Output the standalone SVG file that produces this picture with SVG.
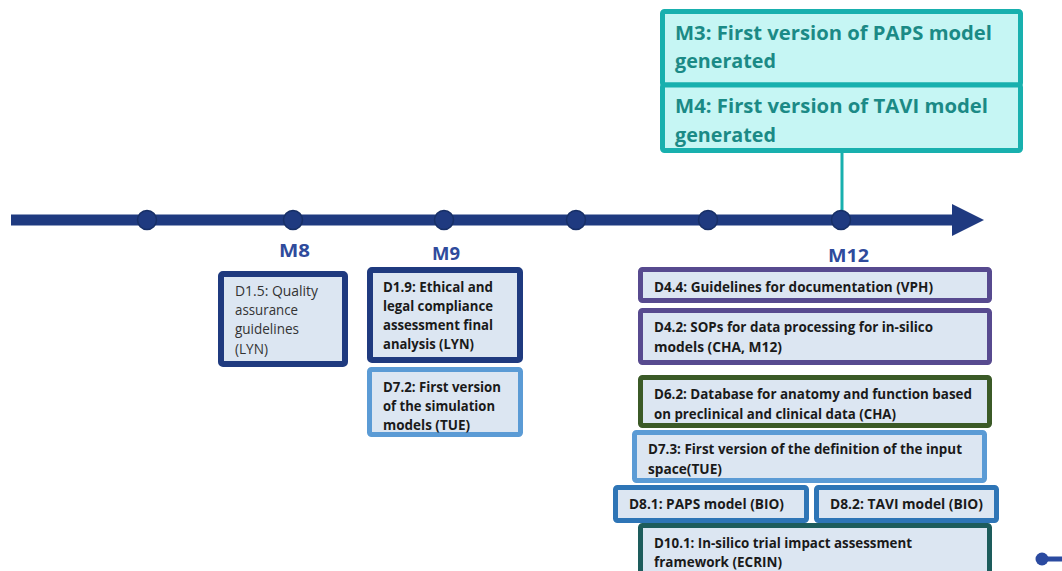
<svg xmlns="http://www.w3.org/2000/svg" width="1062" height="571" viewBox="0 0 1062 571">
<style>
.bx{fill:#dce6f2;stroke-linejoin:round}
.navy{stroke:#1f3a7f;stroke-width:6}
.lb{stroke:#5b9bd5;stroke-width:5}
.mb{stroke:#2e75b6;stroke-width:5}
.pu{stroke:#574a8f;stroke-width:5}
.gr{stroke:#3b5a27;stroke-width:5}
.tl{stroke:#1d5c5c;stroke-width:5}
.t{font-family:"Open Sans","Noto Sans",sans-serif;font-size:14px;fill:#1a1a1a;font-weight:bold}
.r{font-weight:normal;fill:#333}
.ms{fill:#c6f6f4;stroke:#18b0ae;stroke-width:5}
.mt{font-family:"Open Sans","Noto Sans",sans-serif;font-size:20px;font-weight:bold;fill:#1b8a86}
.lab{font-family:"Open Sans","Noto Sans",sans-serif;font-size:18px;font-weight:bold;fill:#2f4b9c}
.dot{fill:#1f3a80;stroke:#172f66;stroke-width:1.5}
</style>
<g id="connectors">
<line x1="11" y1="220" x2="955" y2="220" stroke="#1f3a80" stroke-width="11"/>
<polygon points="952,204 984,220 952,236" fill="#1f3a80"/>
<line x1="842" y1="152" x2="842" y2="212" stroke="#18b0ae" stroke-width="3"/>
<line x1="1042" y1="559" x2="1062" y2="559" stroke="#2b4aa0" stroke-width="5"/>
<circle cx="1042" cy="559" r="6.5" fill="#2b4aa0"/>
</g>
<g id="timeline-dots">
<circle class="dot" cx="147" cy="220" r="9.5"/>
<circle class="dot" cx="293" cy="220" r="9.5"/>
<circle class="dot" cx="444" cy="220" r="9.5"/>
<circle class="dot" cx="576" cy="220" r="9.5"/>
<circle class="dot" cx="708" cy="220" r="9.5"/>
<circle class="dot" cx="841" cy="220" r="9.5"/>
</g>
<g id="labels">
<text class="lab" x="279" y="257" textLength="31" lengthAdjust="spacingAndGlyphs">M8</text>
<text class="lab" x="432" y="260" textLength="28" lengthAdjust="spacingAndGlyphs">M9</text>
<text class="lab" x="828" y="262" textLength="41" lengthAdjust="spacingAndGlyphs">M12</text>
</g>
<g id="M3">
<rect class="ms" x="662.5" y="11.5" width="358" height="73.5" rx="2"/>
<text class="mt" x="675" y="40" textLength="317" lengthAdjust="spacingAndGlyphs">M3: First version of PAPS model</text>
<text class="mt" x="675" y="68" textLength="101" lengthAdjust="spacingAndGlyphs">generated</text>
</g>
<g id="M4">
<rect class="ms" x="662.5" y="85" width="358" height="65.5" rx="2"/>
<text class="mt" x="675" y="113" textLength="313" lengthAdjust="spacingAndGlyphs">M4: First version of TAVI model</text>
<text class="mt" x="675" y="142" textLength="101" lengthAdjust="spacingAndGlyphs">generated</text>
</g>
<g id="D1.5">
<rect class="bx navy" x="221" y="274" width="124" height="90" rx="2"/>
<text class="t r" x="235" y="296" textLength="83" lengthAdjust="spacingAndGlyphs">D1.5: Quality</text>
<text class="t r" x="235" y="315" textLength="63" lengthAdjust="spacingAndGlyphs">assurance</text>
<text class="t r" x="235" y="334" textLength="64" lengthAdjust="spacingAndGlyphs">guidelines</text>
<text class="t r" x="235" y="354" textLength="33" lengthAdjust="spacingAndGlyphs">(LYN)</text>
</g>
<g id="D1.9">
<rect class="bx navy" x="370" y="270" width="150" height="90" rx="2"/>
<text class="t" x="383" y="292" textLength="110" lengthAdjust="spacingAndGlyphs">D1.9: Ethical and</text>
<text class="t" x="383" y="311" textLength="110" lengthAdjust="spacingAndGlyphs">legal compliance</text>
<text class="t" x="383" y="330" textLength="110" lengthAdjust="spacingAndGlyphs">assessment final</text>
<text class="t" x="383" y="349" textLength="91" lengthAdjust="spacingAndGlyphs">analysis (LYN)</text>
</g>
<g id="D7.2">
<rect class="bx lb" x="369.5" y="369.5" width="151" height="65" rx="2"/>
<text class="t" x="383" y="392" textLength="118" lengthAdjust="spacingAndGlyphs">D7.2: First version</text>
<text class="t" x="383" y="411" textLength="112" lengthAdjust="spacingAndGlyphs">of the simulation</text>
<text class="t" x="383" y="430" textLength="87" lengthAdjust="spacingAndGlyphs">models (TUE)</text>
</g>
<g id="D4.4">
<rect class="bx pu" x="640.5" y="269.5" width="349" height="31" rx="2"/>
<text class="t" x="654" y="292" textLength="279" lengthAdjust="spacingAndGlyphs">D4.4: Guidelines for documentation (VPH)</text>
</g>
<g id="D4.2">
<rect class="bx pu" x="640.5" y="310.5" width="349" height="52" rx="2"/>
<text class="t" x="654" y="332" textLength="279" lengthAdjust="spacingAndGlyphs">D4.2: SOPs for data processing for in-silico</text>
<text class="t" x="654" y="352" textLength="128" lengthAdjust="spacingAndGlyphs">models (CHA, M12)</text>
</g>
<g id="D6.2">
<rect class="bx gr" x="640.5" y="377.5" width="349" height="48" rx="2"/>
<text class="t" x="654" y="399" textLength="318" lengthAdjust="spacingAndGlyphs">D6.2: Database for anatomy and function based</text>
<text class="t" x="654" y="419" textLength="242" lengthAdjust="spacingAndGlyphs">on preclinical and clinical data (CHA)</text>
</g>
<g id="D7.3">
<rect class="bx lb" x="634.5" y="432.5" width="350" height="48" rx="2"/>
<text class="t" x="648" y="454" textLength="314" lengthAdjust="spacingAndGlyphs">D7.3: First version of the definition of the input</text>
<text class="t" x="648" y="474" textLength="74" lengthAdjust="spacingAndGlyphs">space(TUE)</text>
</g>
<g id="D8.1">
<rect class="bx mb" x="615.5" y="487.5" width="191" height="33" rx="2"/>
<text class="t" x="629" y="509" textLength="155" lengthAdjust="spacingAndGlyphs">D8.1: PAPS model (BIO)</text>
</g>
<g id="D8.2">
<rect class="bx mb" x="816.5" y="487.5" width="180" height="33" rx="2"/>
<text class="t" x="830" y="509" textLength="153" lengthAdjust="spacingAndGlyphs">D8.2: TAVI model (BIO)</text>
</g>
<g id="D10.1">
<rect class="bx tl" x="640.5" y="525.5" width="349" height="60" rx="2"/>
<text class="t" x="654" y="548" textLength="258" lengthAdjust="spacingAndGlyphs">D10.1: In-silico trial impact assessment</text>
<text class="t" x="654" y="567" textLength="128" lengthAdjust="spacingAndGlyphs">framework (ECRIN)</text>
</g>
</svg>
